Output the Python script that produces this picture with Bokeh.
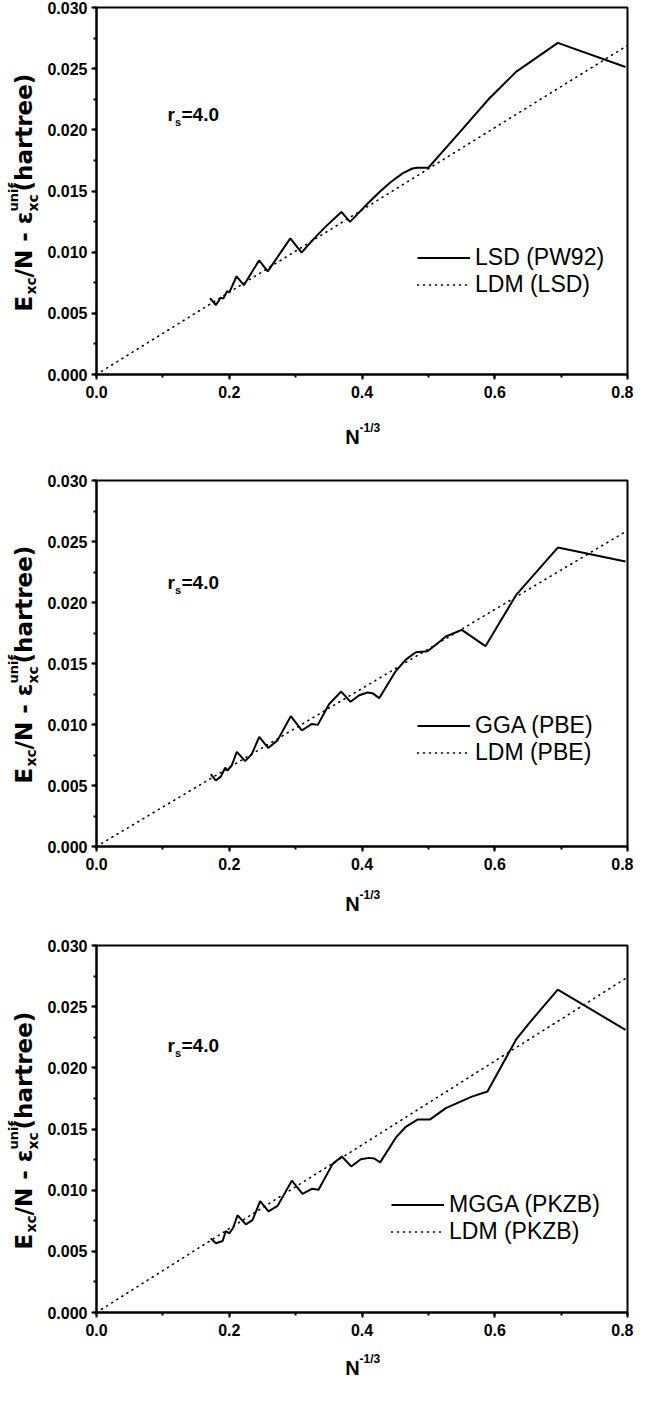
import numpy as np
from bokeh.plotting import figure
from bokeh.layouts import column, row
from bokeh.models import (Range1d, SingleIntervalTicker, NumeralTickFormatter, Label,
                          Legend, LegendItem)
from bokeh.embed import file_html
from bokeh.resources import INLINE

# ---------------- data ----------------
lsd_x = [0.171, 0.180, 0.187, 0.191, 0.197, 0.200, 0.211, 0.222, 0.245, 0.258, 0.292, 0.309,
         0.328, 0.346, 0.369, 0.382, 0.406, 0.426, 0.443, 0.461, 0.476, 0.483, 0.500, 0.548,
         0.592, 0.632, 0.695, 0.797]
lsd_y = [0.00623, 0.00568, 0.00628, 0.00620, 0.00682, 0.00670, 0.00803, 0.00730, 0.00933,
         0.00843, 0.01113, 0.00997, 0.01113, 0.01213, 0.01329, 0.01248, 0.01383, 0.01490,
         0.01571, 0.01644, 0.01684, 0.01690, 0.01690, 0.01985, 0.02258, 0.02474, 0.02711,
         0.02514]

gga_x = [0.1722, 0.1797, 0.1873, 0.1939, 0.1974, 0.2039, 0.2114, 0.224, 0.234, 0.2451, 0.2587,
         0.2727, 0.2927, 0.3093, 0.3244, 0.3334, 0.3506, 0.3687, 0.3827, 0.3958, 0.4083, 0.4158,
         0.4259, 0.4509, 0.466, 0.4811, 0.4987, 0.5112, 0.5263, 0.5504, 0.586, 0.632, 0.695,
         0.797]
gga_y = [0.00594, 0.00541, 0.00573, 0.00646, 0.00622, 0.00667, 0.00776, 0.00700, 0.00757,
         0.00898, 0.00808, 0.00870, 0.01068, 0.00951, 0.01005, 0.00997, 0.01168, 0.01270,
         0.01186, 0.01240, 0.01262, 0.01257, 0.01216, 0.01438, 0.01532, 0.01592, 0.01600,
         0.01654, 0.01721, 0.01776, 0.01642, 0.02060, 0.02450, 0.02336]

mgga_x = [0.172, 0.180, 0.190, 0.1948, 0.200, 0.206, 0.2124, 0.225, 0.235, 0.2466, 0.2591,
          0.2727, 0.2943, 0.3104, 0.3244, 0.3345, 0.3556, 0.3696, 0.3837, 0.3982, 0.4108,
          0.4184, 0.4274, 0.4509, 0.466, 0.4836, 0.5022, 0.5263, 0.5655, 0.589, 0.632, 0.651,
          0.695, 0.797]
mgga_y = [0.00606, 0.00566, 0.00585, 0.00666, 0.00647, 0.00693, 0.00795, 0.00720, 0.00755,
          0.00911, 0.00827, 0.00871, 0.01078, 0.00970, 0.01011, 0.01003, 0.01213, 0.01275,
          0.01194, 0.01253, 0.01264, 0.01259, 0.01227, 0.01429, 0.01518, 0.01577, 0.01577,
          0.01671, 0.01765, 0.01806, 0.02230, 0.02360, 0.02640, 0.02310]

ldm_x = [0.0, 0.8]
ldm_lsd_y = [0.0, 0.0269]
ldm_pbe_y = [0.0, 0.0259]
ldm_pkzb_y = [0.0, 0.0274]

curve_labels = ["LSD (PW92)", "GGA (PBE)", "MGGA (PKZB)"]
ldm_labels = ["LDM (LSD)", "LDM (PBE)", "LDM (PKZB)"]
x_tick_format = "0.0"
y_tick_format = "0.000"

# ---------------- layout ----------------
YW = 44          # width of the strip holding the y axis title
MAIN_W = 589
BOT = 30         # bottom border of main plot (tick labels)
panels = [
    dict(cx=lsd_x, cy=lsd_y, ly=ldm_lsd_y, lab=curve_labels[0], llab=ldm_labels[0],
         top=7, fh=367, xh=66, xl_y=34, leg=(321, 76.5), rs_y=260),
    dict(cx=gga_x, cy=gga_y, ly=ldm_pbe_y, lab=curve_labels[1], llab=ldm_labels[1],
         top=10, fh=366, xh=59, xl_y=32, leg=(321, 80.5), rs_y=264),
    dict(cx=mgga_x, cy=mgga_y, ly=ldm_pkzb_y, lab=curve_labels[2], llab=ldm_labels[2],
         top=10, fh=367, xh=35, xl_y=10, leg=(295, 67.5), rs_y=267),
]

TICK_FONT = "Liberation Sans"
YL_FONT = "DejaVu Sans"


def blank_fig(w, h):
    f = figure(width=w, height=h, output_backend="svg", toolbar_location=None,
               x_range=Range1d(0, w), y_range=Range1d(0, h),
               x_axis_location=None, y_axis_location=None,
               min_border_left=0, min_border_right=0, min_border_top=0, min_border_bottom=0)
    f.grid.visible = False
    f.xgrid.visible = False
    f.ygrid.visible = False
    f.outline_line_color = None
    f.background_fill_color = "white"
    f.border_fill_color = "white"
    return f


def lab(fig, txt, x, y, size, font=TICK_FONT, angle=0.0):
    fig.add_layout(Label(x=x, y=y, x_units="screen", y_units="screen", text=txt, angle=angle,
                         text_font=font, text_font_style="bold", text_font_size=size,
                         text_baseline="alphabetic", text_align="left", text_color="black"))


blocks = []
for cfg in panels:
    H = cfg["top"] + cfg["fh"] + BOT
    p = figure(width=MAIN_W, height=H, output_backend="svg", toolbar_location=None,
               x_range=Range1d(0, 0.8), y_range=Range1d(0, 0.03),
               min_border_left=52, min_border_right=6,
               min_border_top=cfg["top"], min_border_bottom=BOT)
    p.grid.visible = False
    p.background_fill_color = "white"
    p.border_fill_color = "white"
    p.outline_line_color = "black"
    p.outline_line_width = 2

    p.xaxis.ticker = SingleIntervalTicker(interval=0.2, num_minor_ticks=2)
    p.yaxis.ticker = SingleIntervalTicker(interval=0.005, num_minor_ticks=2)
    p.xaxis.formatter = NumeralTickFormatter(format=x_tick_format)
    p.yaxis.formatter = NumeralTickFormatter(format=y_tick_format)
    for ax in (p.xaxis[0], p.yaxis[0]):
        ax.axis_line_width = 2
        ax.axis_line_color = "black"
        ax.major_tick_line_width = 2
        ax.minor_tick_line_width = 2
        ax.major_tick_in = 0
        ax.major_tick_out = 5
        ax.minor_tick_in = 0
        ax.minor_tick_out = 3
        ax.major_label_text_font = TICK_FONT
        ax.major_label_text_font_style = "bold"
        ax.major_label_text_font_size = "16px"
        ax.major_label_text_color = "black"
    p.xaxis.major_label_standoff = 6
    p.yaxis.major_label_standoff = 4

    r1 = p.line(cfg["cx"], cfg["cy"], line_color="black", line_width=2)
    r2 = p.line(ldm_x, cfg["ly"], line_color="black", line_width=1.6, line_dash="1 5",
                line_cap="round")

    leg = Legend(items=[LegendItem(label=cfg["lab"], renderers=[r1]),
                        LegendItem(label=cfg["llab"], renderers=[r2])],
                 location=cfg["leg"], padding=0, margin=0, spacing=0,
                 glyph_width=53, glyph_height=27, label_height=27, label_standoff=5,
                 label_text_font=TICK_FONT, label_text_font_size="23px",
                 label_text_color="black", border_line_alpha=0, background_fill_alpha=0)
    p.add_layout(leg)

    # r_s = 4.0 annotation (inside the frame)
    ry = cfg["rs_y"]
    lab(p, "r", 71, ry, "19px")
    lab(p, "s", 78.5, ry - 7, "11px")
    lab(p, "=4.0", 85, ry, "19px")

    # y axis title strip
    yf = blank_fig(YW, H)
    a = np.pi / 2
    lab(yf, "E", 23, 63, "23px", YL_FONT, a)
    lab(yf, "xc", 30, 80, "14px", YL_FONT, a)
    lab(yf, "/N - \u03b5", 23, 97, "23px", YL_FONT, a)
    lab(yf, "xc", 32, 163, "14px", YL_FONT, a)
    lab(yf, "unif", 13, 163, "13px", YL_FONT, a)
    lab(yf, "(hartree)", 23, 183, "23px", YL_FONT, a)

    # x axis title strip
    xf = blank_fig(YW + MAIN_W, cfg["xh"])
    lab(xf, "N", 344.7, cfg["xl_y"], "20px")
    lab(xf, "-1/3", 359, cfg["xl_y"] + 9, "12px")

    blocks.append(column(row(yf, p, spacing=0), xf, spacing=0))

layout = column(*blocks, spacing=0)
open("out.html", "w").write(file_html(layout, INLINE))
